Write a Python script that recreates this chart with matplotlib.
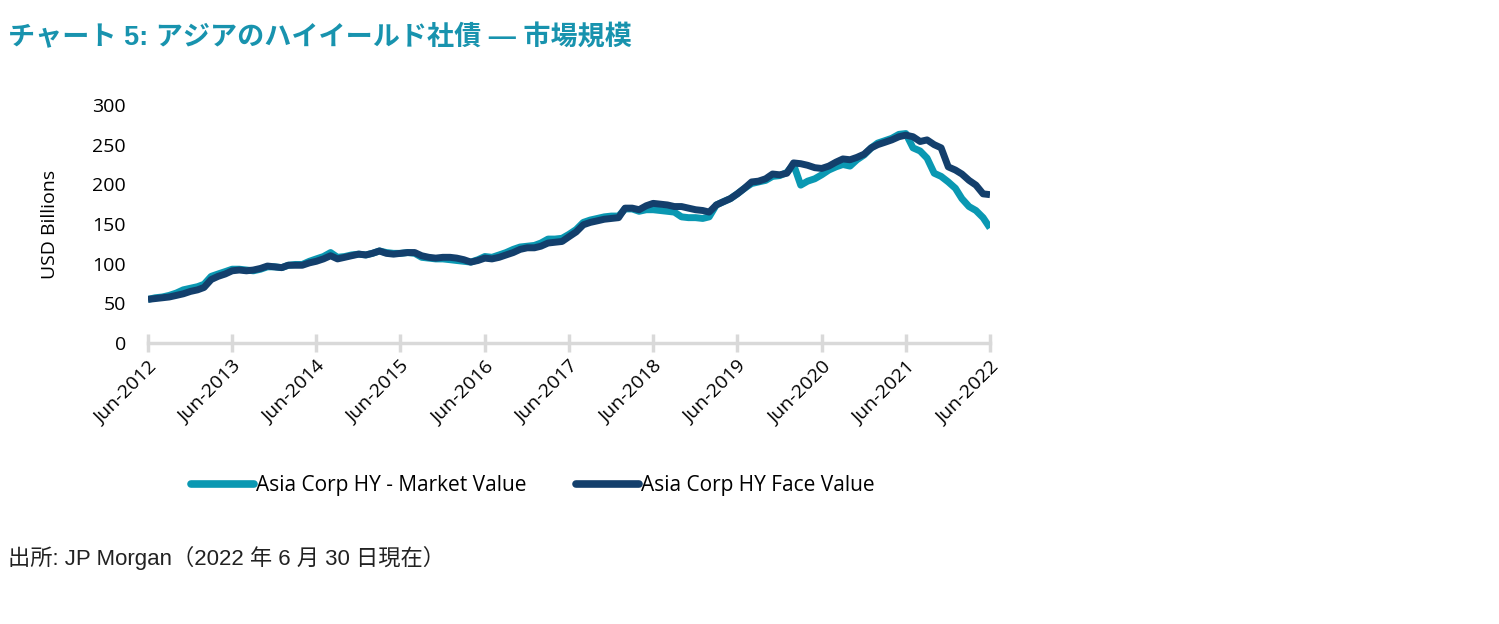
import numpy as np
import pandas as pd
import matplotlib
matplotlib.use('Agg')
import matplotlib.pyplot as plt

plt.rcParams['font.family'] = ['Open Sans', 'Noto Sans CJK JP', 'DejaVu Sans']

# monthly, Jun-2012 .. Jun-2022
dates = pd.date_range('2012-06-30', '2022-06-30', freq='ME')

face_value = [55, 56, 57, 58, 60, 62, 65, 67, 70, 80, 84, 87,
              91, 92, 91, 92, 94, 97, 96, 95, 98, 98, 98, 101,
              103, 106, 110, 106, 108, 110, 112, 111, 113, 116, 113, 112,
              113, 114, 114, 110, 108, 107, 108, 108, 107, 105, 102, 104,
              107, 106, 108, 111, 114, 118, 120, 120, 122, 126, 127, 128,
              134, 140, 149, 152, 154, 156, 157, 158, 170, 170, 168, 173,
              176, 175, 174, 172, 172, 170, 168, 167, 165, 174, 178, 182,
              188, 195, 203, 204, 207, 213, 212, 214, 227, 226, 224, 221,
              220, 223, 228, 232, 231, 234, 238, 246, 250, 253, 256, 260,
              262, 260, 254, 256, 250, 246, 222, 218, 213, 205, 199, 188,
              187]

market_value = [55, 57, 58, 60, 63, 67, 69, 71, 74, 84, 87, 90,
                93, 93, 92, 91, 93, 96, 96, 95, 98, 99, 99, 103,
                106, 109, 114, 108, 109, 111, 112, 111, 113, 116, 114, 113,
                113, 114, 113, 108, 107, 106, 106, 105, 104, 103, 102, 105,
                109, 108, 111, 114, 118, 121, 122, 123, 126, 131, 131, 132,
                137, 143, 152, 155, 157, 159, 160, 160, 169, 169, 166, 168,
                168, 167, 166, 165, 159, 158, 158, 157, 159, 174, 178, 182,
                188, 195, 201, 203, 205, 210, 211, 215, 225, 199, 204, 207,
                212, 218, 222, 225, 223, 231, 237, 246, 252, 255, 258, 263,
                264, 246, 242, 233, 214, 210, 203, 195, 182, 172, 167, 158,
                145]

tick_dates = pd.date_range('2012-06-30', '2022-06-30', freq='12ME')
tick_labels = [d.strftime('%b-%Y') for d in tick_dates]

teal = '#0a98b2'
navy = '#133f6c'
grey = '#d9d9d9'

fig = plt.figure(figsize=(14.99, 6.24), dpi=100)
ax = fig.add_axes([148 / 1499, 1 - 343 / 624, 842 / 1499, 238 / 624])

ax.plot(dates, market_value, color=teal, lw=5, solid_capstyle='butt',
        label='Asia Corp HY - Market Value')
ax.plot(dates, face_value, color=navy, lw=5, solid_capstyle='butt',
        label='Asia Corp HY Face Value')

ax.set_xlim(dates[0], dates[-1])
ax.set_ylim(0, 300)
ax.set_yticks(np.arange(0, 301, 50))
ax.set_xticks(tick_dates)
ax.set_xticklabels(tick_labels, rotation=45, ha='right', rotation_mode='anchor')

for s in ['top', 'right', 'left']:
    ax.spines[s].set_visible(False)
ax.spines['bottom'].set_color(grey)
ax.spines['bottom'].set_linewidth(2.5)
ax.spines['bottom'].set_zorder(0)
ax.tick_params(axis='x', direction='inout', length=13, width=2.5, color=grey,
               labelsize=14, pad=4)
ax.tick_params(axis='y', length=0, labelsize=14, pad=16)
ax.set_ylabel('USD Billions', fontsize=14, labelpad=24)

fig.legend(loc='center', bbox_to_anchor=(533 / 1499, 1 - 486 / 624), ncol=2,
           frameon=False, fontsize=15, handlelength=3.0, handletextpad=0.1,
           columnspacing=2.4)
for lh in fig.legends[0].get_lines():
    lh.set_linewidth(5.5)
    lh.set_solid_capstyle('round')

fig.text(8 / 1499, 1 - 38 / 624, 'チャート 5: アジアのハイイールド社債 ― 市場規模',
         fontsize=19.5, fontweight='bold', color='#1893ae', va='center',
         family=['Liberation Sans', 'Noto Sans CJK JP', 'DejaVu Sans'])
fig.text(8 / 1499, 1 - 558 / 624, '出所: JP Morgan（2022 年 6 月 30 日現在）',
         fontsize=16, color='#222222', va='center',
         family=['Liberation Sans', 'Noto Sans CJK JP', 'DejaVu Sans'])

plt.savefig('out.png', dpi=100)
